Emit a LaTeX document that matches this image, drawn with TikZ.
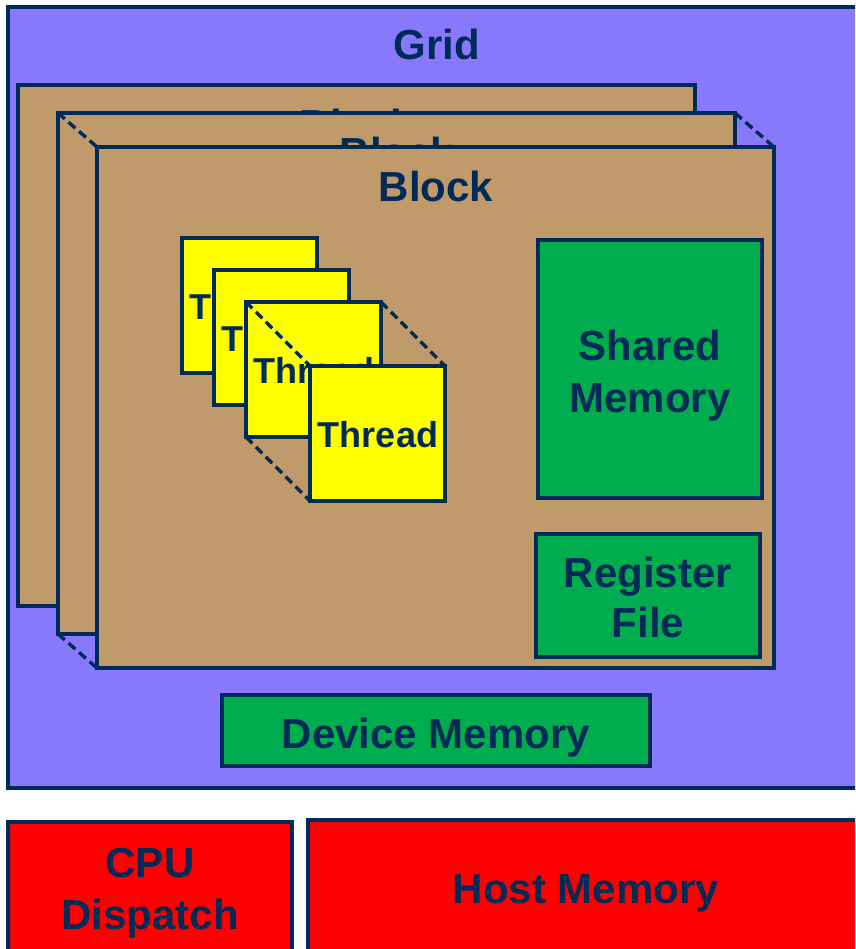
\documentclass[tikz,border=0pt]{standalone}
\usepackage{fontspec}
\setmainfont{Liberation Sans}
\definecolor{navy}{RGB}{0,42,88}
\definecolor{gridc}{RGB}{135,120,252}
\definecolor{blockc}{RGB}{192,154,107}
\definecolor{memc}{RGB}{0,173,78}
\definecolor{hostc}{RGB}{255,0,0}
\definecolor{thrc}{RGB}{255,255,0}
\tikzset{
  box/.style={draw=navy, line width=3.4pt, rectangle, anchor=north west, inner sep=0pt, outer sep=0pt},
  big/.style={text=navy, font=\fontsize{42}{52}\selectfont\bfseries, anchor=base, inner sep=0pt, align=center},
  thr/.style={text=navy, font=\fontsize{36}{42}\selectfont\bfseries, anchor=base, inner sep=0pt},
  dline/.style={draw=navy, line width=3.4pt, dash pattern=on 9pt off 5pt},
}
\begin{document}
\begin{tikzpicture}[x=1pt,y=-1pt]
\useasboundingbox (0,0) rectangle (855,949);
\clip (0,0) rectangle (855,949);
% grid
\node[box, fill=gridc, minimum width=858pt, minimum height=781pt] (grid) at (8,7) {};
\node[big] (gridt) at (437,60) {Grid};
% blocks
\node[box, fill=blockc, minimum width=677pt, minimum height=521pt] (b1) at (18,85) {};
\node[big] (b1t) at (357,140) {Block};
\node[box, fill=blockc, minimum width=677pt, minimum height=521pt] (b2) at (58,113) {};
\node[big] (b2t) at (397,168) {Block};
\draw[dline] (b2.north west) -- (97,147) coordinate (b3nw);
\draw[dline] (b2.north east) -- (774,147) coordinate (b3ne);
\draw[dline] (b2.south west) -- (97,668) coordinate (b3sw);
\node[box, fill=blockc, minimum width=677pt, minimum height=521pt] (b3) at (b3nw) {};
\node[big] (b3t) at (436,202) {Block};
% threads
\node[box, fill=thrc, minimum width=135pt, minimum height=135pt] (t1) at (182,238) {};
\node[thr] (t1t) at (250,319) {Thread};
\node[box, fill=thrc, minimum width=135pt, minimum height=135pt] (t2) at (214,270) {};
\node[thr] (t2t) at (282,351) {Thread};
\node[box, fill=thrc, minimum width=135pt, minimum height=135pt] (t3) at (246,302) {};
\node[thr] (t3t) at (314,383) {Thread};
\draw[dline] (t3.north west) -- (310,366) coordinate (t4nw);
\draw[dline] (t3.north east) -- (445,366) coordinate (t4ne);
\draw[dline] (t3.south west) -- (310,501) coordinate (t4sw);
\node[box, fill=thrc, minimum width=135pt, minimum height=135pt] (t4) at (t4nw) {};
\node[thr] (t4t) at (378,447) {Thread};
% memories
\node[box, fill=memc, minimum width=224pt, minimum height=258pt] (sh) at (538,240) {};
\node[big] (sht) at (650,412) {Shared\\Memory};
\node[box, fill=memc, minimum width=224pt, minimum height=123pt] (rf) at (536,534) {};
\node[big, font=\fontsize{42}{50}\selectfont\bfseries] (rft) at (648,637) {Register\\File};
\node[box, fill=memc, minimum width=428pt, minimum height=71pt] (dev) at (222,695) {};
\node[big] (devt) at (436,748) {Device Memory};
% host
\node[box, fill=hostc, minimum width=284pt, minimum height=140pt] (cpu) at (8,822) {};
\node[big] (cput) at (150,929) {CPU\\Dispatch};
\node[box, fill=hostc, minimum width=556pt, minimum height=140pt] (host) at (308,820) {};
\node[big] (hostt) at (586,903) {Host Memory};
\end{tikzpicture}
\end{document}
